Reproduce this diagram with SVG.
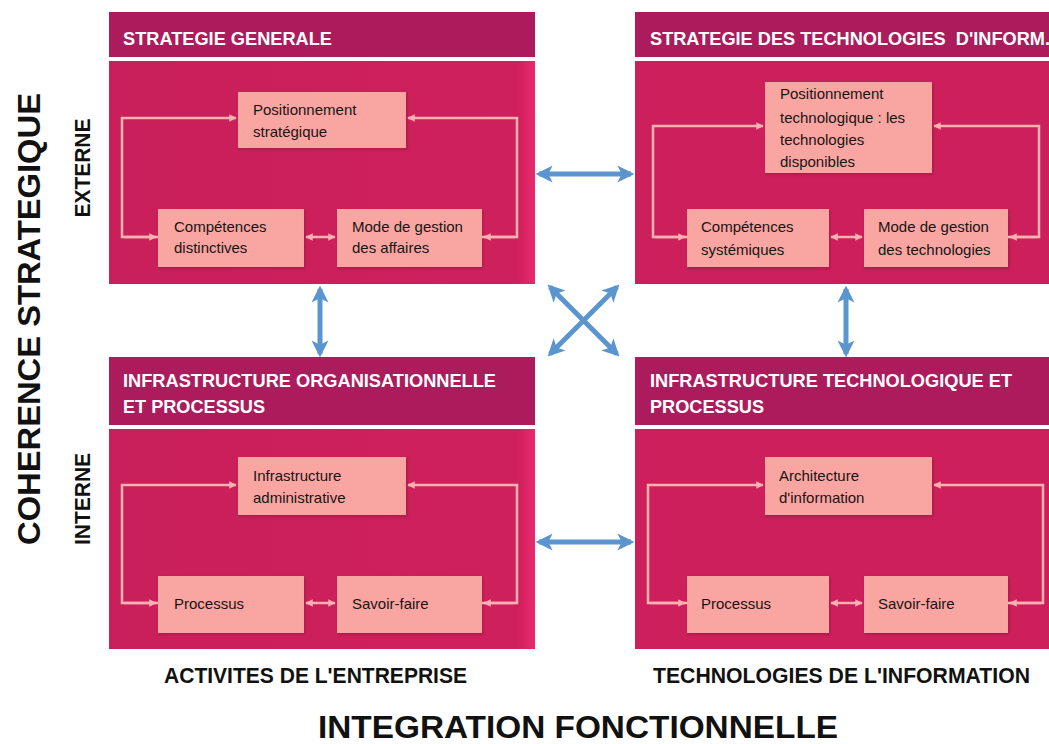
<svg xmlns="http://www.w3.org/2000/svg" width="1049" height="744" viewBox="0 0 1049 744">
<style>
.hdr{fill:#AC1B5C}
.body{fill:url(#bodyGrad)}
.box{fill:#F9A5A2;filter:url(#sh)}
.htxt{font-family:"Liberation Sans",Arial,sans-serif;font-weight:bold;font-size:18px;fill:#FFFFFF}
.btxt{font-family:"Liberation Sans",Arial,sans-serif;font-size:15px;fill:#1A1414}
.lbl{font-family:"Liberation Sans",Arial,sans-serif;font-weight:bold;fill:#111111}
.loop{fill:none;stroke:#F8B3B1;stroke-width:2.5}
.blue{fill:none;stroke:#5B95CF;stroke-width:5}
</style>
<defs>
<linearGradient id="bodyGrad" x1="0" y1="0" x2="1" y2="0">
<stop offset="0" stop-color="#C91F5A"/>
<stop offset="0.96" stop-color="#CE205C"/>
<stop offset="1" stop-color="#EA2A6E"/>
</linearGradient>
<filter id="sh" x="-5%" y="-5%" width="110%" height="115%">
<feDropShadow dx="1" dy="1.5" stdDeviation="1" flood-color="#7a0d30" flood-opacity="0.5"/>
</filter>
<marker id="pa" viewBox="0 0 10 10" refX="9" refY="5" markerWidth="3" markerHeight="3" orient="auto-start-reverse">
<path d="M0,0 L10,5 L0,10 z" fill="#F8B3B1"/>
</marker>
<marker id="ba" viewBox="0 0 10 10" refX="8" refY="5" markerWidth="3.4" markerHeight="3.4" orient="auto-start-reverse">
<path d="M0,0 L10,5 L0,10 L2.5,5 z" fill="#5B95CF"/>
</marker>
</defs>
<rect width="1049" height="744" fill="#FFFFFF"/>

<g id="panel-strategie-generale">
<rect class="hdr" x="109" y="12" width="426" height="45"/>
<rect class="body" x="109" y="61" width="426" height="223"/>
<text class="htxt" x="123" y="45" textLength="209" lengthAdjust="spacingAndGlyphs">STRATEGIE GENERALE</text>
</g>
<g id="sg-positionnement">
<rect class="box" x="238" y="92" width="168" height="56"/>
<text class="btxt" x="253" y="115">Positionnement</text>
<text class="btxt" x="253" y="137">stratégique</text>
</g>
<g id="sg-competences">
<rect class="box" x="158" y="209" width="146" height="58"/>
<text class="btxt" x="174" y="232">Compétences</text>
<text class="btxt" x="174" y="253">distinctives</text>
</g>
<g id="sg-mode">
<rect class="box" x="337" y="209" width="145" height="58"/>
<text class="btxt" x="352" y="232">Mode de gestion</text>
<text class="btxt" x="352" y="253">des affaires</text>
</g>

<g id="panel-strategie-ti">
<rect class="hdr" x="635" y="12" width="414" height="45"/>
<rect x="635" y="61" width="414" height="223" fill="#CC1F5B"/>
<text class="htxt" x="650" y="45" xml:space="preserve" textLength="400" lengthAdjust="spacingAndGlyphs">STRATEGIE DES TECHNOLOGIES  D'INFORM.</text>
</g>
<g id="ti-positionnement">
<rect class="box" x="765" y="82" width="167" height="91"/>
<text class="btxt" x="780" y="99">Positionnement</text>
<text class="btxt" x="780" y="123">technologique : les</text>
<text class="btxt" x="780" y="145">technologies</text>
<text class="btxt" x="780" y="167">disponibles</text>
</g>
<g id="ti-competences">
<rect class="box" x="687" y="209" width="142" height="58"/>
<text class="btxt" x="701" y="232">Compétences</text>
<text class="btxt" x="701" y="255">systémiques</text>
</g>
<g id="ti-mode">
<rect class="box" x="864" y="209" width="144" height="58"/>
<text class="btxt" x="878" y="232">Mode de gestion</text>
<text class="btxt" x="878" y="255">des technologies</text>
</g>

<g id="panel-infra-org">
<rect class="hdr" x="109" y="357" width="426" height="68"/>
<rect class="body" x="109" y="429" width="426" height="220"/>
<text class="htxt" x="123" y="387" textLength="373" lengthAdjust="spacingAndGlyphs">INFRASTRUCTURE ORGANISATIONNELLE</text>
<text class="htxt" x="123" y="413" textLength="142" lengthAdjust="spacingAndGlyphs">ET PROCESSUS</text>
</g>
<g id="io-infrastructure">
<rect class="box" x="238" y="457" width="168" height="58"/>
<text class="btxt" x="253" y="481">Infrastructure</text>
<text class="btxt" x="253" y="503">administrative</text>
</g>
<g id="io-processus">
<rect class="box" x="158" y="576" width="146" height="57"/>
<text class="btxt" x="174" y="609">Processus</text>
</g>
<g id="io-savoir">
<rect class="box" x="337" y="576" width="145" height="57"/>
<text class="btxt" x="352" y="609">Savoir-faire</text>
</g>

<g id="panel-infra-ti">
<rect class="hdr" x="635" y="357" width="414" height="68"/>
<rect x="635" y="429" width="414" height="220" fill="#CC1F5B"/>
<text class="htxt" x="650" y="387" textLength="362" lengthAdjust="spacingAndGlyphs">INFRASTRUCTURE TECHNOLOGIQUE ET</text>
<text class="htxt" x="650" y="413" textLength="114" lengthAdjust="spacingAndGlyphs">PROCESSUS</text>
</g>
<g id="it-architecture">
<rect class="box" x="765" y="457" width="167" height="58"/>
<text class="btxt" x="779" y="481">Architecture</text>
<text class="btxt" x="779" y="503">d'information</text>
</g>
<g id="it-processus">
<rect class="box" x="687" y="576" width="142" height="57"/>
<text class="btxt" x="701" y="609">Processus</text>
</g>
<g id="it-savoir">
<rect class="box" x="864" y="576" width="144" height="57"/>
<text class="btxt" x="878" y="609">Savoir-faire</text>
</g>

<g id="connectors">
<path class="loop" d="M158,237 H122 V118 H236" marker-end="url(#pa)"/>
<path class="loop" d="M482,237 H517 V118 H408" marker-end="url(#pa)"/>
<path class="loop" d="M124,237 H156" marker-end="url(#pa)"/>
<path class="loop" d="M515,237 H484" marker-end="url(#pa)"/>
<path class="loop" d="M306,237 H335" marker-start="url(#pa)" marker-end="url(#pa)"/>
<path class="loop" d="M687,237 H653 V126 H763" marker-end="url(#pa)"/>
<path class="loop" d="M1008,237 H1039 V126 H934" marker-end="url(#pa)"/>
<path class="loop" d="M655,237 H685" marker-end="url(#pa)"/>
<path class="loop" d="M1037,237 H1010" marker-end="url(#pa)"/>
<path class="loop" d="M831,237 H862" marker-start="url(#pa)" marker-end="url(#pa)"/>
<path class="loop" d="M158,603 H122 V485 H236" marker-end="url(#pa)"/>
<path class="loop" d="M482,603 H517 V485 H408" marker-end="url(#pa)"/>
<path class="loop" d="M124,603 H156" marker-end="url(#pa)"/>
<path class="loop" d="M515,603 H484" marker-end="url(#pa)"/>
<path class="loop" d="M306,603 H335" marker-start="url(#pa)" marker-end="url(#pa)"/>
<path class="loop" d="M687,603 H648 V485 H763" marker-end="url(#pa)"/>
<path class="loop" d="M1008,603 H1043 V485 H934" marker-end="url(#pa)"/>
<path class="loop" d="M650,603 H685" marker-end="url(#pa)"/>
<path class="loop" d="M1041,603 H1010" marker-end="url(#pa)"/>
<path class="loop" d="M831,603 H862" marker-start="url(#pa)" marker-end="url(#pa)"/>
<path class="blue" d="M539,174 H631" marker-start="url(#ba)" marker-end="url(#ba)"/>
<path class="blue" d="M539,542 H631" marker-start="url(#ba)" marker-end="url(#ba)"/>
<path class="blue" d="M320,289 V354" marker-start="url(#ba)" marker-end="url(#ba)"/>
<path class="blue" d="M846,289 V354" marker-start="url(#ba)" marker-end="url(#ba)"/>
<path class="blue" d="M550,287 L617,354" stroke-width="4" marker-start="url(#ba)" marker-end="url(#ba)"/>
<path class="blue" d="M617,287 L550,354" stroke-width="4" marker-start="url(#ba)" marker-end="url(#ba)"/>
</g>

<g id="labels">
<text class="lbl" font-size="32" transform="translate(40,319) rotate(-90)" text-anchor="middle" textLength="452" lengthAdjust="spacingAndGlyphs">COHERENCE STRATEGIQUE</text>
<text class="lbl" font-size="22" transform="translate(90,168) rotate(-90)" text-anchor="middle" textLength="99" lengthAdjust="spacingAndGlyphs">EXTERNE</text>
<text class="lbl" font-size="22" transform="translate(90,499) rotate(-90)" text-anchor="middle" textLength="92" lengthAdjust="spacingAndGlyphs">INTERNE</text>
<text class="lbl" font-size="22" x="164" y="683" textLength="303" lengthAdjust="spacingAndGlyphs">ACTIVITES DE L'ENTREPRISE</text>
<text class="lbl" font-size="22" x="653" y="683" textLength="377" lengthAdjust="spacingAndGlyphs">TECHNOLOGIES DE L'INFORMATION</text>
<text class="lbl" font-size="32" x="318" y="738" textLength="520" lengthAdjust="spacingAndGlyphs">INTEGRATION FONCTIONNELLE</text>
</g>
</svg>
